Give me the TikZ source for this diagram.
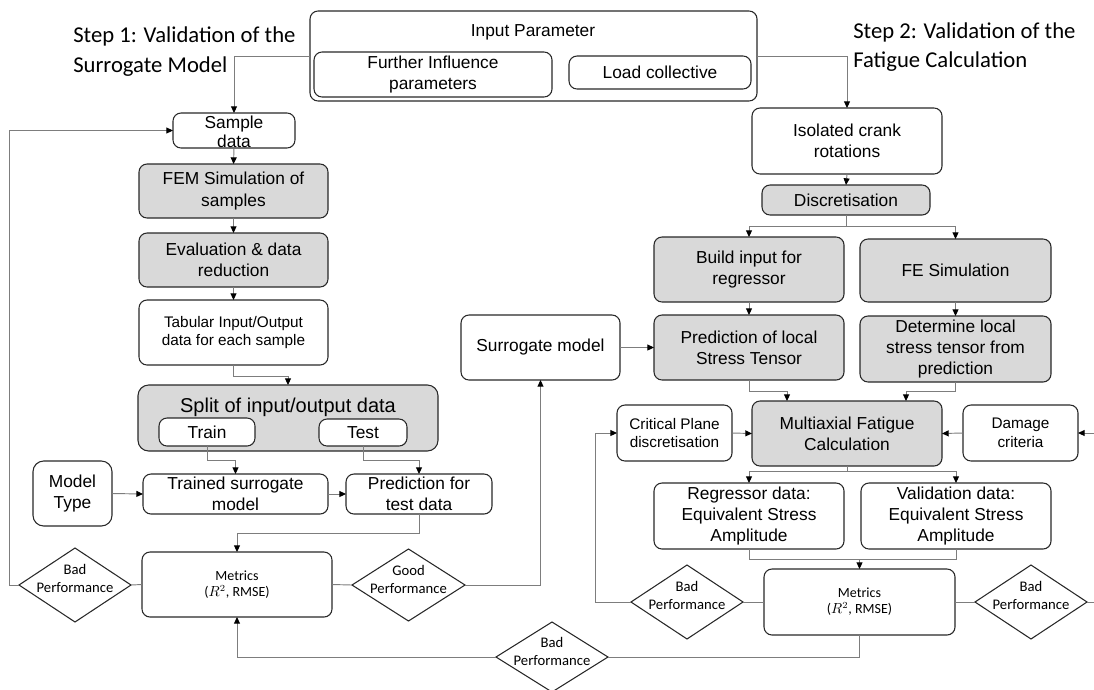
\documentclass[tikz,border=0pt]{standalone}
\usepackage{fontspec}
\setmainfont{Liberation Sans}
\newfontfamily\calfont{Carlito}
\usetikzlibrary{arrows.meta,shapes.geometric,calc}
\definecolor{gfill}{RGB}{217,217,217}
\definecolor{lgray}{RGB}{125,125,125}
\definecolor{bord}{RGB}{40,40,40}
\begin{document}
\begin{tikzpicture}[x=0.75pt,y=-0.75pt,
  bx/.style={draw=bord, line width=0.8pt, rounded corners=6pt, inner sep=0pt, outer sep=0pt, align=center, font=\fontsize{13}{16}\selectfont},
  gbx/.style={bx, fill=gfill},
  small/.style={font=\fontsize{11.5}{14}\selectfont},
  bb/.style n args={4}{at={({(#1+#3)/2},{(#2+#4)/2})}, minimum width={(#3-#1)*0.75pt}, minimum height={(#4-#2)*0.75pt}},
  dia/.style={diamond, draw=bord, line width=0.8pt, inner sep=0pt, outer sep=0pt, minimum width=84pt, minimum height=55.5pt},
  dtxt/.style={align=center, inner sep=0pt, font=\calfont\fontsize{11}{13.5}\selectfont},
  mtxt/.style={align=center, inner sep=0pt, font=\calfont\fontsize{10.5}{12}\selectfont},
  ttl/.style={align=left, inner sep=0pt, anchor=west, font=\calfont\fontsize{17}{22.5}\selectfont},
  conn/.style={draw=lgray, line width=0.7pt},
  arr/.style={conn, -{Triangle[length=5pt,width=4.5pt,color=black]}}
]
\useasboundingbox (0,0) rectangle (1094,689);

% titles
\node[ttl] (t1) at (73,52) {Step 1: Validation of the\\Surrogate Model};
\node[ttl, font=\calfont\fontsize{17}{21.75}\selectfont] (t2) at (853,47.5) {Step 2: Validation of the\\Fatigue Calculation};

% input parameter
\node[bx, bb={310}{11}{757}{101}] (inp) {};
\node[font=\fontsize{13}{16}\selectfont, inner sep=0pt] (inpl) at (533,32) {Input Parameter};
\node[bx, bb={314}{52}{552}{97}] (fip) {Further Influence\\parameters};
\node[bx, bb={569}{56}{751}{89}] (lc) {Load collective};

% step 1 column
\node[bx, bb={173}{113}{295}{148}] (sd) {};
\node[align=center, inner sep=0pt, font=\fontsize{13}{14}\selectfont] (sdt) at (234,131.5) {Sample\\data};
\node[gbx, bb={139}{164}{328}{218}] (fem) {FEM Simulation of\\samples};
\node[gbx, bb={139}{233}{328}{287}] (eva) {Evaluation \& data\\reduction};
\node[bx, small, bb={139}{300}{328}{365}] (tab) {Tabular Input/Output\\data for each sample};
\node[gbx, rounded corners=8pt, bb={138}{385}{438}{451}] (spl) {};
\node[font=\fontsize{15}{18}\selectfont, inner sep=0pt] (spll) at (288,407) {Split of input/output data};
\node[bx, fill=white, bb={159}{418}{255}{446}] (tr) {Train};
\node[bx, fill=white, bb={319}{419}{407}{446}] (te) {Test};
\node[bx, rounded corners=8pt, bb={33}{461}{112}{526}] (mt) {Model\\Type};
\node[bx, bb={143}{474}{328}{514}] (ts) {Trained surrogate\\model};
\node[bx, bb={346}{474}{492}{514}] (pt) {Prediction for\\test data};
\node[bx, bb={142}{552}{332}{617}] (m1) {};
\node[mtxt] (m1t) at (237,585) {Metrics\\($R^2$, RMSE)};
\node[dia] (bp1) at (75,585) {};
\node[dtxt] (bp1t) at (75,578) {Bad\\Performance};
\node[dia, minimum width=84.75pt, minimum height=54pt] (gp) at (408.5,585) {};
\node[dtxt] (gpt) at (408.5,579) {Good\\Performance};
\node[bx, bb={461}{315}{620}{380}] (sm) {Surrogate model};
\node[dia, minimum height=52.5pt] (bp3) at (552,657) {};
\node[dtxt] (bp3t) at (552,651) {Bad\\Performance};

% step 2 column
\node[bx, bb={752}{108}{942}{174}] (ic) {Isolated crank\\rotations};
\node[gbx, bb={762}{185}{930}{215}] (ds) {Discretisation};
\node[gbx, bb={654}{237}{844}{302}] (bi) {Build input for\\regressor};
\node[gbx, bb={860}{239}{1051}{302}] (fe) {FE Simulation};
\node[gbx, bb={654}{315}{844}{380}] (pl) {Prediction of local\\Stress Tensor};
\node[gbx, bb={860}{316}{1051}{382}] (dl) {Determine local\\stress tensor from\\prediction};
\node[gbx, bb={752}{401}{942}{466}] (mf) {Multiaxial Fatigue\\Calculation};
\node[bx, small, bb={617}{405}{732}{461}] (cp) {Critical Plane\\discretisation};
\node[bx, small, bb={963}{405}{1078}{461}] (dc) {Damage\\criteria};
\node[bx, bb={654}{483}{844}{549}] (rd) {Regressor data:\\Equivalent Stress\\Amplitude};
\node[bx, bb={861}{483}{1051}{549}] (vd) {Validation data:\\Equivalent Stress\\Amplitude};
\node[bx, bb={764}{569}{955}{635}] (m2) {};
\node[mtxt] (m2t) at (859.5,602) {Metrics\\($R^2$, RMSE)};
\node[dia] (bp2) at (687,602) {};
\node[dtxt] (bp2t) at (687,595) {Bad\\Performance};
\node[dia] (bp4) at (1031,602) {};
\node[dtxt] (bp4t) at (1031,595) {Bad\\Performance};

\coordinate (rin) at (1094,433);
\coordinate (rout) at (1094,602);

% connectors step 1
\draw[arr] (inp.west) -| (sd.north);
\draw[arr] (sd.south) -- (fem.north);
\draw[arr] (fem.south) -- (eva.north);
\draw[arr] (eva.south) -- (tab.north);
\draw[arr] (tab.south) -- ++(0,11) -| (spl.north);
\draw[arr] (tr.south) -- ++(0,14) -| (ts.north);
\draw[arr] (te.south) -- ++(0,14) -| (pt.north);
\draw[arr] (mt.east) -- (ts.west);
\draw[arr] (ts.east) -- (pt.west);
\draw[arr] (pt.south) -- ++(0,19) -| (m1.north);
\draw[conn] (m1.west) -- (bp1.east);
\draw[arr] (bp1.west) -- ++(-10,0) |- (sd.west);
\draw[conn] (m1.east) -- (gp.west);
\draw[arr] (gp.east) -| (sm.south);
\draw[arr] (sm.east) -- (pl.west);
\draw[arr] (bp3.west) -| (m1.south);

% connectors step 2
\draw[arr] (inp.east) -| (ic.north);
\draw[arr] (ic.south) -- (ds.north);
\draw[arr] (ds.south) -- ++(0,11) -| (bi.north);
\draw[arr] (ds.south) -- ++(0,11) -| (fe.north);
\draw[arr] (bi.south) -- (pl.north);
\draw[arr] (fe.south) -- (dl.north);
\draw[arr] (pl.south) -- ++(0,11) -| ($(mf.north)+(-60,0)$);
\draw[arr] (dl.south) -- ++(0,9) -| ($(mf.north)+(59,0)$);
\draw[arr] (cp.east) -- (mf.west);
\draw[arr] (dc.west) -- (mf.east);
\draw[arr] (rin) -- (dc.east);
\draw[arr] (mf.south) -- ++(0,5) -| (rd.north);
\draw[arr] (mf.south) -- ++(0,5) -| (vd.north);
\draw[conn] (rd.south) -- ++(0,10) -| (vd.south);
\draw[arr] ($(m2.north)+(0,-10)$) -- (m2.north);
\draw[conn] (m2.west) -- (bp2.east);
\draw[arr] (bp2.west) -- ++(-36,0) |- (cp.west);
\draw[conn] (m2.east) -- (bp4.west);
\draw[conn] (bp4.east) -- (rout);
\draw[conn] (m2.south) |- (bp3.east);
\end{tikzpicture}
\end{document}
